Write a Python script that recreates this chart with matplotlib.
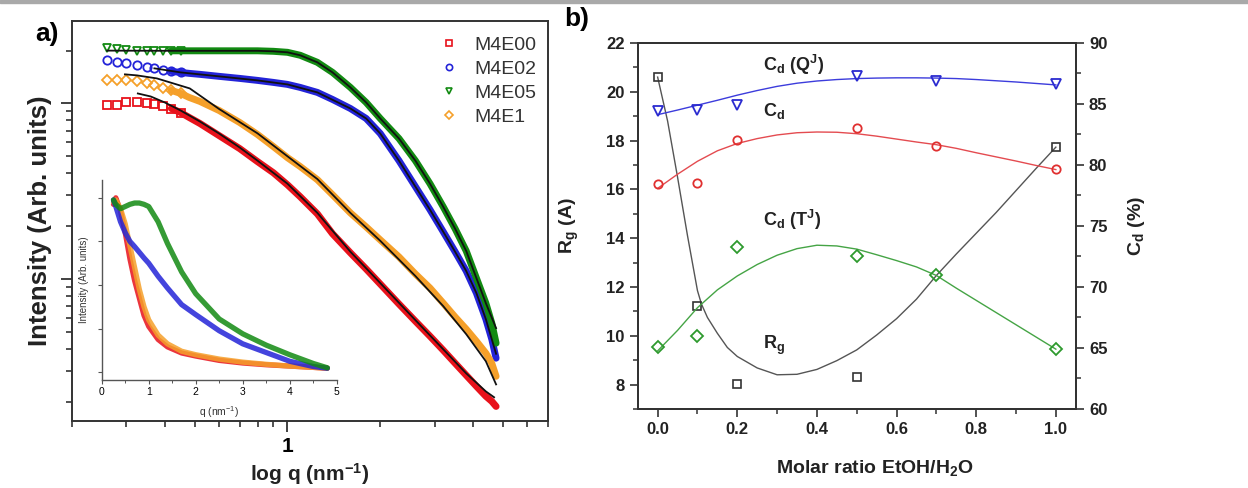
import numpy as np
import matplotlib.pyplot as plt
from matplotlib.ticker import FixedLocator, NullFormatter, MultipleLocator
from matplotlib.patches import Rectangle
from matplotlib.lines import Line2D

plt.rcParams['font.family'] = ['Liberation Sans', 'DejaVu Sans']
plt.rcParams['mathtext.fontset'] = 'custom'
plt.rcParams['mathtext.rm'] = 'Liberation Sans'
plt.rcParams['mathtext.it'] = 'Liberation Sans:italic'
plt.rcParams['mathtext.bf'] = 'Liberation Sans:bold'
plt.rcParams['mathtext.default'] = 'regular'

# ---------------- panel a : SAXS curves (log-log) ----------------
q = [0.26, 0.28, 0.30, 0.325, 0.35, 0.37, 0.395, 0.42, 0.45, 0.48, 0.52, 0.60, 0.70,
     0.80, 0.90, 1.0, 1.1, 1.25, 1.4, 1.6, 1.8, 2.0, 2.3, 2.6, 2.9, 3.2, 3.5, 3.8,
     4.1, 4.4, 4.6, 4.75]
i_m4e00 = [0.974, 0.974, 1.013, 1.013, 1.0, 0.987, 0.961, 0.936, 0.888, 0.832, 0.769,
           0.656, 0.553, 0.466, 0.403, 0.344, 0.294, 0.235, 0.181, 0.141, 0.114, 0.0936,
           0.0720, 0.0575, 0.0472, 0.0393, 0.0331, 0.0283, 0.0245, 0.0215, 0.0201, 0.0188]
i_m4e02 = [1.760, 1.715, 1.692, 1.649, 1.606, 1.585, 1.544, 1.523, 1.503, 1.484, 1.465,
           1.427, 1.389, 1.353, 1.318, 1.284, 1.234, 1.156, 1.054, 0.936, 0.821, 0.674,
           0.472, 0.336, 0.248, 0.186, 0.1427, 0.1111, 0.0832, 0.0591, 0.0454, 0.0354]
i_m4e05 = [2.062, 2.035, 2.009, 1.995, 1.995, 1.995, 1.995, 1.995, 1.995, 1.995, 1.995,
           1.995, 1.995, 1.995, 1.982, 1.956, 1.881, 1.715, 1.503, 1.234, 1.013, 0.821,
           0.631, 0.472, 0.349, 0.258, 0.193, 0.1445, 0.1013, 0.0729, 0.0561, 0.0431]
i_m4e1 = [1.353, 1.353, 1.353, 1.336, 1.301, 1.267, 1.218, 1.187, 1.141, 1.082, 1.027,
          0.912, 0.779, 0.665, 0.568, 0.491, 0.437, 0.368, 0.302, 0.238, 0.198, 0.167,
          0.1336, 0.1068, 0.0888, 0.0729, 0.0607, 0.0518, 0.0442, 0.0378, 0.0331, 0.0279]

# model fits (black lines)
fq_00 = [0.327, 0.36, 0.40, 0.45, 0.52, 0.6, 0.7, 0.8, 1.0, 1.25, 1.6, 2.0, 2.6, 3.2, 3.8, 4.4, 4.68]
fit_00 = [1.14, 1.096, 1.013, 0.912, 0.789, 0.674, 0.561, 0.472, 0.349, 0.238, 0.143, 0.0948,
          0.0583, 0.0398, 0.0290, 0.0229, 0.0212]
fq_1 = [0.297, 0.325, 0.377, 0.482, 0.6, 0.8, 1.0, 1.25, 1.6, 2.0, 2.6, 3.2, 3.8, 4.4, 4.75]
fit_1 = [1.465, 1.445, 1.389, 1.218, 0.93, 0.675, 0.50, 0.371, 0.238, 0.165, 0.104, 0.0701,
         0.0485, 0.0340, 0.0251]
fq_02 = [0.37, 0.45, 0.6, 0.8, 1.0, 1.25, 1.6, 1.8, 2.0, 2.3, 2.6, 2.9, 3.2, 3.5, 3.8, 4.1, 4.4, 4.75]
fit_02 = [1.585, 1.503, 1.427, 1.353, 1.284, 1.156, 0.936, 0.821, 0.674, 0.472, 0.336, 0.248,
          0.186, 0.1427, 0.1111, 0.0832, 0.0591, 0.0375]
fq_05 = [0.26, 0.4, 0.6, 0.8, 0.9, 1.0, 1.1, 1.25, 1.4, 1.6, 1.8, 2.0, 2.3, 2.6, 2.9, 3.2, 3.5,
         3.8, 4.1, 4.4, 4.75]
fit_05 = [2.0, 1.995, 1.995, 1.995, 1.982, 1.956, 1.881, 1.715, 1.503, 1.234, 1.013, 0.821,
          0.631, 0.472, 0.349, 0.258, 0.193, 0.1445, 0.1013, 0.0729, 0.0525]

# inset (linear scale)
iq = [0.25, 0.3, 0.4, 0.5, 0.6, 0.7, 0.8, 0.9, 1.0, 1.2, 1.4, 1.7, 2.0, 2.5, 3.0, 3.5, 4.0, 4.5, 4.8]
ins_00 = [3.85, 4.0, 3.7, 3.2, 2.6, 2.1, 1.7, 1.3, 1.05, 0.75, 0.58, 0.44, 0.37, 0.27, 0.21,
          0.17, 0.14, 0.11, 0.09]
ins_1 = [3.9, 3.95, 3.75, 3.4, 2.9, 2.4, 1.9, 1.5, 1.2, 0.85, 0.65, 0.48, 0.40, 0.30, 0.23,
         0.18, 0.14, 0.11, 0.09]
ins_02 = [3.95, 3.8, 3.45, 3.2, 3.0, 2.88, 2.75, 2.62, 2.5, 2.2, 1.93, 1.55, 1.32, 0.95, 0.65,
          0.45, 0.25, 0.13, 0.09]
ins_05 = [3.95, 3.85, 3.75, 3.8, 3.85, 3.88, 3.88, 3.85, 3.8, 3.45, 2.95, 2.3, 1.8, 1.22, 0.88,
          0.62, 0.4, 0.2, 0.1]

# ---------------- panel b : Rg and Cd vs molar ratio ----------------
ratio = [0.0, 0.1, 0.2, 0.5, 0.7, 1.0]
rg_x = [0.0, 0.1, 0.2, 0.5, 1.0]
rg = [20.6, 11.21, 8.04, 8.31, 17.73]
cd_qj = [84.4, 84.54, 84.94, 87.3, 86.9, 86.6]
cd = [78.4, 78.54, 82.02, 83.04, 81.54, 79.64]
cd_tj = [65.08, 66.02, 73.24, 72.56, 70.98, 64.94]

curve_x = [0.0, 0.05, 0.1, 0.15, 0.2, 0.25, 0.3, 0.35, 0.4, 0.45, 0.5, 0.55, 0.6, 0.65, 0.7,
           0.75, 0.8, 0.85, 0.9, 0.95, 1.0]
cd_qj_line = [84.12, 84.5, 84.9, 85.3, 85.72, 86.1, 86.44, 86.7, 86.88, 87.0, 87.08, 87.12,
              87.14, 87.14, 87.12, 87.08, 87.0, 86.9, 86.8, 86.68, 86.56]
cd_line = [78.08, 79.24, 80.3, 81.16, 81.76, 82.16, 82.46, 82.64, 82.7, 82.68, 82.56, 82.36,
           82.12, 81.88, 81.66, 81.36, 81.0, 80.66, 80.32, 79.96, 79.62]
cd_tj_line = [64.76, 66.44, 68.3, 69.76, 70.9, 71.84, 72.6, 73.14, 73.42, 73.36, 73.1, 72.64,
              72.16, 71.64, 70.94, 69.9, 68.9, 67.9, 66.9, 65.9, 64.9]
rg_line_x = [0.0, 0.025, 0.05, 0.075, 0.09, 0.1, 0.11, 0.125, 0.15, 0.175, 0.2, 0.25, 0.3,
             0.35, 0.4, 0.45, 0.5, 0.55, 0.6, 0.65, 0.7, 0.75, 0.8, 0.85, 0.9, 0.95, 1.0]
rg_line = [20.6, 18.8, 16.5, 14.1, 12.75, 11.85, 11.3, 10.75, 10.1, 9.52, 9.15, 8.68, 8.4,
           8.42, 8.62, 8.98, 9.42, 10.03, 10.7, 11.5, 12.47, 13.35, 14.2, 15.05, 15.95, 16.85,
           17.73]

RED, BLUE, GREEN, ORANGE = '#e8121b', '#2323d8', '#128a12', '#f5a02a'
SPINE = '#333333'

fig = plt.figure(figsize=(12.48, 4.88), dpi=100)
fig.patches.append(Rectangle((0, 1 - 3 / 488), 1, 3 / 488, transform=fig.transFigure,
                             color='#a9a9a9', zorder=0))

# ---- panel a
axa = fig.add_axes([0.0577, 0.137, 0.3814, 0.82])
axa.set_xscale('log')
axa.set_yscale('log')
series = [(i_m4e00, 's', RED, 'M4E00', fq_00, fit_00),
          (i_m4e02, 'o', BLUE, 'M4E02', fq_02, fit_02),
          (i_m4e05, 'v', GREEN, 'M4E05', fq_05, fit_05),
          (i_m4e1, 'D', ORANGE, 'M4E1', fq_1, fit_1)]
qa = np.array(q)
handles = []
for vals, mk, col, lab, fq, fv in series:
    vals = np.array(vals)
    band = qa >= 0.42
    dots = qa <= 0.45
    axa.plot(qa[band], vals[band], '-', color=col, lw=5.0, solid_capstyle='round', zorder=2)
    ms = 5.0 if mk == 'D' else 6.0
    axa.plot(qa[dots], vals[dots], ls='none', marker=mk, ms=ms, mfc='none', mec=col, mew=1.3,
             zorder=3)
    axa.plot(fq, fv, '-', color='#111111', lw=1.3, zorder=4)
    handles.append(Line2D([], [], ls='none', marker=mk, ms=4.5, mfc='none', mec=col, mew=1.2))

axa.set_xlim(0.2, 7)
axa.set_ylim(0.0155, 2.95)
axa.xaxis.set_major_locator(FixedLocator([1]))
axa.xaxis.set_minor_locator(FixedLocator([0.2, 0.3, 0.4, 0.5, 0.6, 0.7, 0.8, 0.9, 2, 3, 4, 5, 6, 7]))
axa.xaxis.set_minor_formatter(NullFormatter())
axa.set_xticklabels(['1'])
axa.yaxis.set_major_locator(FixedLocator([0.1, 1]))
axa.yaxis.set_minor_locator(FixedLocator([0.02, 0.03, 0.04, 0.05, 0.06, 0.07, 0.08, 0.09,
                                          0.2, 0.3, 0.4, 0.5, 0.6, 0.7, 0.8, 0.9, 2]))
axa.yaxis.set_major_formatter(NullFormatter())
axa.yaxis.set_minor_formatter(NullFormatter())
axa.tick_params(which='major', direction='out', length=8, width=1.3, color=SPINE, labelsize=15)
axa.tick_params(which='minor', direction='out', length=4.5, width=1.2, color=SPINE)
for lbl in axa.get_xticklabels():
    lbl.set_fontweight('bold')
for s in axa.spines.values():
    s.set_linewidth(1.4)
    s.set_color(SPINE)
axa.set_ylabel('Intensity (Arb. units)', fontsize=18.5, fontweight='bold', color='#222222')
axa.yaxis.set_label_coords(-0.042, 0.5)
axa.set_xlabel('log q (nm$^{-1}$)', fontsize=15, fontweight='bold', color='#222222')
axa.xaxis.set_label_coords(0.5, -0.1)
leg = axa.legend(handles, ['M4E00', 'M4E02', 'M4E05', 'M4E1'], loc='upper left',
                 bbox_to_anchor=(0.755, 0.982), frameon=False, fontsize=14, handlelength=1.0,
                 handletextpad=0.8, labelspacing=0.34, borderaxespad=0)
for t in leg.get_texts():
    t.set_color('#333333')
fig.text(0.038, 0.93, 'a)', fontsize=19, fontweight='bold', ha='center', va='center')

# ---- inset
axi = fig.add_axes([0.0815, 0.2213, 0.1883, 0.41])
axi.patch.set_alpha(0)
for vals, col in [(ins_00, RED), (ins_1, ORANGE), (ins_02, BLUE), (ins_05, GREEN)]:
    axi.plot(iq, vals, '-', color=col, lw=3.8, alpha=0.85, solid_capstyle='round')
axi.set_xlim(0, 5)
axi.set_ylim(-0.18, 4.41)
axi.set_xticks(range(0, 6))
axi.xaxis.set_minor_locator(MultipleLocator(0.5))
axi.set_yticks(range(0, 5))
axi.yaxis.set_major_formatter(NullFormatter())
axi.spines['top'].set_visible(False)
axi.spines['right'].set_visible(False)
for s in ['left', 'bottom']:
    axi.spines[s].set_color('#555555')
    axi.spines[s].set_linewidth(1.0)
axi.tick_params(which='major', direction='out', length=3, width=0.8, color='#555555',
                labelsize=7.5, pad=2)
axi.tick_params(which='minor', direction='out', length=2, width=0.7, color='#555555')
axi.set_ylabel('Intensity (Arb. units)', fontsize=7, color='#333333')
axi.yaxis.set_label_coords(-0.055, 0.5)
axi.set_xlabel('q (nm$^{-1}$)', fontsize=7.5, color='#333333')
axi.xaxis.set_label_coords(0.5, -0.12)

# ---- panel b
axb = fig.add_axes([0.511, 0.162, 0.351, 0.75])
axr = axb.twinx()
axb.plot(rg_line_x, rg_line, '-', color='#555555', lw=1.0)
axb.plot(rg_x, rg, ls='none', marker='s', ms=5.5, mfc='none', mec='#333333', mew=1.2)
axr.plot(curve_x, cd_qj_line, '-', color='#3c3cdc', lw=1.0)
axr.plot(ratio, cd_qj, ls='none', marker='v', ms=7, mfc='none', mec='#2b2bd0', mew=1.3)
axr.plot(curve_x, cd_line, '-', color='#e44b50', lw=1.0)
axr.plot(ratio, cd, ls='none', marker='o', ms=6, mfc='none', mec='#e03030', mew=1.3)
axr.plot(curve_x, cd_tj_line, '-', color='#45a445', lw=1.0)
axr.plot(ratio, cd_tj, ls='none', marker='D', ms=6, mfc='none', mec='#2e9a2e', mew=1.3)

axb.set_xlim(-0.05, 1.05)
axb.set_ylim(7, 22)
axr.set_ylim(60, 90)
axb.set_xticks([0.0, 0.2, 0.4, 0.6, 0.8, 1.0])
axb.xaxis.set_minor_locator(MultipleLocator(0.1))
axb.set_yticks(range(8, 23, 2))
axb.yaxis.set_minor_locator(MultipleLocator(1))
axr.set_yticks(range(60, 91, 5))
axr.yaxis.set_minor_locator(MultipleLocator(2.5))
for ax in (axb, axr):
    ax.tick_params(which='major', direction='out', length=6, width=1.2, color=SPINE,
                   labelsize=12)
    ax.tick_params(which='minor', direction='out', length=3.5, width=1.1, color=SPINE)
    for s in ax.spines.values():
        s.set_linewidth(1.4)
        s.set_color(SPINE)
    for lbl in ax.get_xticklabels() + ax.get_yticklabels():
        lbl.set_fontweight('bold')
        lbl.set_color('#222222')
axb.xaxis.set_ticklabels(['0.0', '0.2', '0.4', '0.6', '0.8', '1.0'], fontweight='bold')

axb.set_ylabel('R$_g$ (A)', fontsize=14, fontweight='bold', color='#222222')
axb.yaxis.set_label_coords(-0.13, 0.5)
axr.set_ylabel('C$_d$ (%)', fontsize=14, fontweight='bold', color='#222222', rotation=90)
axr.yaxis.set_label_coords(1.115, 0.5)
axb.set_xlabel('Molar ratio EtOH/H$_2$O', fontsize=14, fontweight='bold', color='#222222')
axb.xaxis.set_label_coords(0.542, -0.135)

ann = dict(fontsize=13, fontweight='bold', color='#222222', ha='left', va='center')
axb.text(0.265, 21.1, 'C$_d$ (Q$^J$)', **ann)
axb.text(0.265, 19.2, 'C$_d$', **ann)
axb.text(0.265, 14.75, 'C$_d$ (T$^J$)', **ann)
axb.text(0.265, 9.6, 'R$_g$', **ann)
fig.text(0.462, 0.962, 'b)', fontsize=19, fontweight='bold', ha='center', va='center')

fig.savefig('out.png', dpi=100)
